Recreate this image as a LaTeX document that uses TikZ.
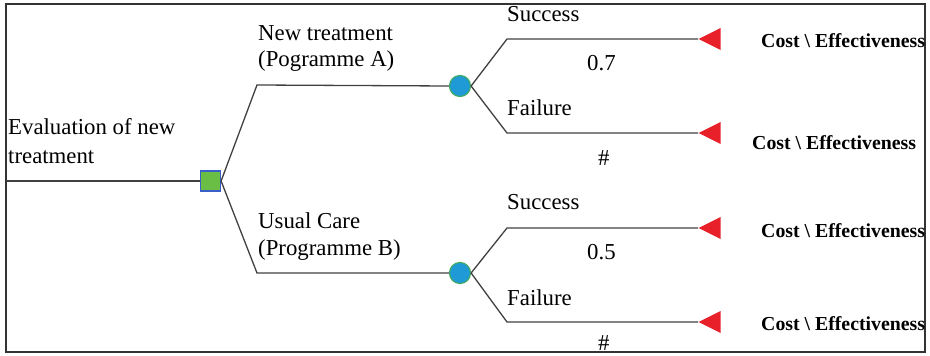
\documentclass[tikz,border=0pt]{standalone}
\usepackage{fontspec}
\setmainfont{Liberation Serif}
\usetikzlibrary{shapes.geometric}
\definecolor{sqfill}{HTML}{6ABE46}
\definecolor{sqedge}{HTML}{3A5FC8}
\definecolor{cfill}{HTML}{1F9AD6}
\definecolor{cedge}{HTML}{3DAA6A}
\definecolor{termred}{HTML}{E8202A}
\definecolor{linegray}{HTML}{404040}
\begin{document}
\begin{tikzpicture}[x=1pt,y=-1pt,
 lbl/.style={anchor=base west,inner sep=0pt,align=left,font=\fontsize{22.8}{27}\selectfont},
 cost/.style={anchor=base west,inner sep=0pt,font=\fontsize{19.8}{23}\selectfont\bfseries},
 branch/.style={draw=linegray,line width=1.3pt},
 decision/.style={rectangle,draw=sqedge,fill=sqfill,minimum size=20pt,inner sep=0pt,line width=1.2pt},
 chance/.style={circle,draw=cedge,fill=cfill,minimum size=21pt,inner sep=0pt,line width=1.2pt},
 term/.style={isosceles triangle,isosceles triangle stretches,shape border rotate=180,fill=termred,
   minimum height=22pt,minimum width=22pt,inner sep=0pt,anchor=apex}
]
\useasboundingbox (0,0) rectangle (930,356);
\draw[line width=2pt,draw=black!80] (6,4) rectangle (925,352);

% nodes
\node[decision] (d) at (210.5,181) {};
\node[chance] (cA) at (460,86) {};
\node[chance] (cB) at (460,273) {};
\node[term] (t1) at (698,39) {};
\node[term] (t2) at (698,133) {};
\node[term] (t3) at (698,228) {};
\node[term] (t4) at (698,322) {};

\coordinate (start) at (6,181);
\coordinate (bA) at (257,85);
\coordinate (bB) at (257,273);
\coordinate (b1) at (507,39);
\coordinate (b2) at (507,133);
\coordinate (b3) at (507,228);
\coordinate (b4) at (507,322);

% connectors
\draw[branch] (start) -- (d.west);
\draw[branch] (d.east) -- (bA) -- (cA.west);
\draw[branch] (d.east) -- (bB) -- (cB.west);
\draw[branch] (cA.east) -- (b1) -- (t1.apex);
\draw[branch] (cA.east) -- (b2) -- (t2.apex);
\draw[branch] (cB.east) -- (b3) -- (t3.apex);
\draw[branch] (cB.east) -- (b4) -- (t4.apex);

% labels (base anchor = baseline of last line)
\node[lbl] (lroot) at (8,163) {Evaluation of new\\[2pt]treatment};
\node[lbl] (lA) at (258,66) {New treatment\\[-1pt](Pogramme A)};
\node[lbl] (lB) at (258,255) {Usual Care\\(Programme B)};

\node[lbl] (s1) at (507,21) {Success};
\node[lbl] (p1) at (587,70) {0.7};
\node[lbl] (f1) at (507,115) {Failure};
\node[lbl] (h1) at (598,165) {\#};

\node[lbl] (s2) at (507,209) {Success};
\node[lbl] (p2) at (587,259) {0.5};
\node[lbl] (f2) at (507,305) {Failure};
\node[lbl] (h2) at (598,350) {\#};

\node[cost] (c1) at (761,47) {Cost \textbackslash{} Effectiveness};
\node[cost] (c2) at (752,149) {Cost \textbackslash{} Effectiveness};
\node[cost] (c3) at (761,237) {Cost \textbackslash{} Effectiveness};
\node[cost] (c4) at (761,330) {Cost \textbackslash{} Effectiveness};
\end{tikzpicture}
\end{document}
